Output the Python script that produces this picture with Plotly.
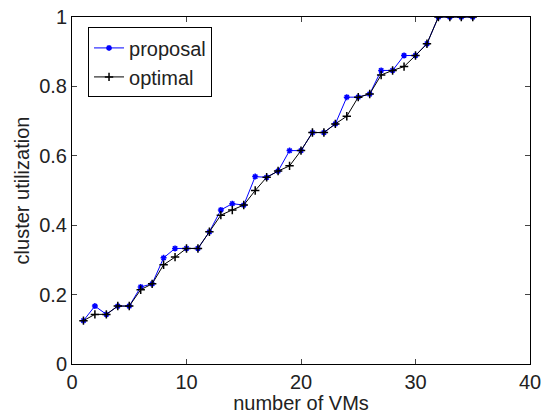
import plotly.graph_objects as go

vms = list(range(1, 36))
proposal = [0.125, 0.167, 0.143, 0.167, 0.167, 0.222, 0.231, 0.306, 0.333, 0.333,
            0.333, 0.381, 0.444, 0.462, 0.458, 0.540, 0.538, 0.556, 0.615, 0.615,
            0.667, 0.667, 0.692, 0.769, 0.769, 0.778, 0.846, 0.846, 0.889, 0.889,
            0.923, 1.0, 1.0, 1.0, 1.0]
optimal = [0.125, 0.143, 0.143, 0.167, 0.167, 0.214, 0.231, 0.286, 0.308, 0.333,
           0.333, 0.381, 0.429, 0.444, 0.458, 0.500, 0.538, 0.556, 0.571, 0.615,
           0.667, 0.667, 0.692, 0.714, 0.769, 0.778, 0.833, 0.846, 0.857, 0.889,
           0.923, 1.0, 1.0, 1.0, 1.0]
x_ticks = [0, 10, 20, 30, 40]
y_ticks = [0, 0.2, 0.4, 0.6, 0.8, 1]
y_labels = ["0", "0.2", "0.4", "0.6", "0.8", "1"]

fig = go.Figure()
fig.add_trace(go.Scatter(
    x=vms, y=proposal, name="proposal", mode="lines+markers",
    line=dict(color="#0000ff", width=1),
    marker=dict(symbol="asterisk-open", size=5, color="#0000ff",
                line=dict(color="#0000ff", width=1.5)),
))
fig.add_trace(go.Scatter(
    x=vms, y=optimal, name="optimal", mode="lines+markers",
    line=dict(color="#000000", width=1),
    marker=dict(symbol="cross-thin", size=6, color="#000000",
                line=dict(color="#000000", width=1.5)),
))

font = dict(family="Liberation Sans, Arial", size=20, color="#222222")
fig.update_layout(
    width=546, height=414,
    margin=dict(l=72, r=16, t=17, b=50, autoexpand=False),
    paper_bgcolor="white", plot_bgcolor="white",
    font=font,
    showlegend=True,
    legend=dict(x=0.035, y=0.97, xanchor="left", yanchor="top",
                bgcolor="white", bordercolor="black", borderwidth=1,
                font=font, tracegroupgap=0, itemwidth=30),
)
fig.update_xaxes(
    range=[0, 40], tickvals=x_ticks, ticks="inside", ticklen=5,
    showline=True, linecolor="black", linewidth=1, mirror="ticks",
    showgrid=False, zeroline=False, automargin=False,
    title=dict(text="number of VMs", standoff=0, font=font),
    tickfont=font,
)
fig.update_yaxes(
    range=[0, 1], tickvals=y_ticks, ticktext=y_labels, ticks="inside", ticklen=5,
    showline=True, linecolor="black", linewidth=1, mirror="ticks",
    showgrid=False, zeroline=False, automargin=False,
    title=dict(text="cluster utilization", standoff=4, font=font),
    tickfont=font,
)
fig.write_html("out.html")
